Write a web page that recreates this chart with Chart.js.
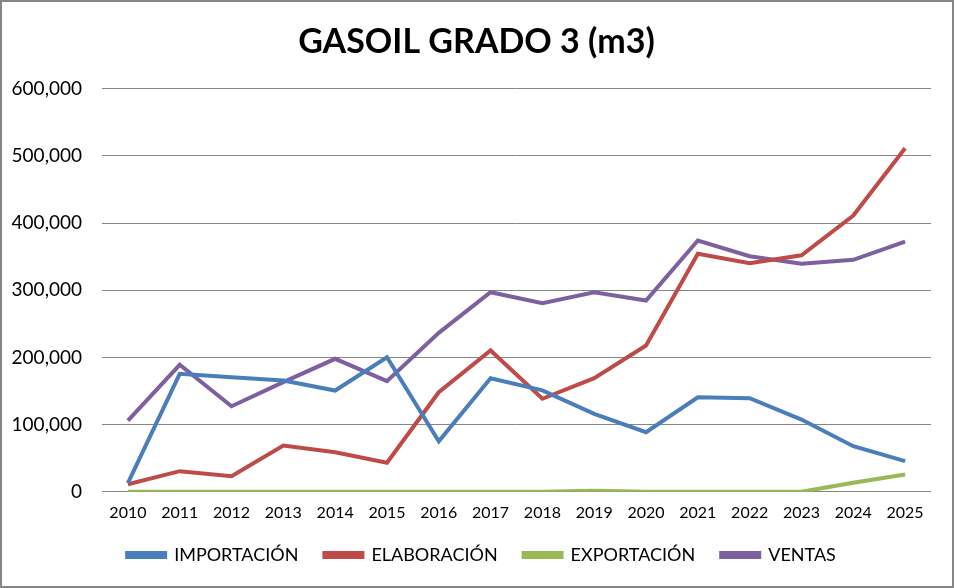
<!DOCTYPE html>
<html>
<head>
<meta charset="utf-8">
<script src="https://cdn.jsdelivr.net/npm/chart.js@4.4.1/dist/chart.umd.min.js"></script>
<style>
  html, body { margin: 0; padding: 0; background: #fff; }
  #wrap { width: 954px; height: 588px; box-sizing: border-box; border: 2px solid #868686; }
</style>
</head>
<body>
<div id="wrap"><canvas id="chart" width="950" height="584"></canvas></div>
<script>
// data (m3)
var years = ['2010','2011','2012','2013','2014','2015','2016','2017','2018','2019','2020','2021','2022','2023','2024','2025'];
var importacion = [13000, 175700, 170600, 165700, 150800, 200400, 75300, 169100, 151000, 116100, 88700, 140800, 139300, 107600, 67900, 45600];
var elaboracion = [11300, 30700, 23200, 68900, 59000, 43200, 148300, 210400, 138500, 169100, 217800, 354300, 340300, 352200, 411300, 511500];
var exportacion = [0, 0, 0, 0, 0, 0, 0, 0, 0, 1500, 0, 0, 0, 0, 13500, 25800];
var ventas = [106100, 189100, 127400, 163200, 198000, 164700, 236700, 297200, 280800, 297200, 284800, 374100, 350800, 339400, 345400, 372600];
var yTicks = [0, 100000, 200000, 300000, 400000, 500000, 600000];

function serie(label, data, color) {
  return {
    label: label,
    data: data,
    borderColor: color,
    backgroundColor: color,
    borderWidth: 4,
    pointRadius: 0,
    tension: 0
  };
}

// title and legend in the original are centred on the whole frame, not on the plot
var centrar = {
  id: 'centrar',
  afterUpdate: function (chart) {
    if (chart.titleBlock) { chart.titleBlock.left += 10; chart.titleBlock.right += 10; }
    if (chart.legend) { chart.legend.left += 15; chart.legend.right += 15; }
  }
};

new Chart(document.getElementById('chart'), {
  type: 'line',
  data: {
    labels: years,
    datasets: [
      serie('IMPORTACIÓN', importacion, '#4A7EBB'),
      serie('ELABORACIÓN', elaboracion, '#BE4B48'),
      serie('EXPORTACIÓN', exportacion, '#98B954'),
      serie('VENTAS', ventas, '#7D60A0')
    ]
  },
  plugins: [centrar],
  options: {
    responsive: false,
    animation: false,
    layout: { padding: { left: 0, right: 21, top: 0, bottom: 12 } },
    plugins: {
      title: {
        display: true,
        text: 'GASOIL GRADO 3 (m3)',
        color: '#000',
        font: { family: 'Lato', size: 34, weight: 'bold' },
        padding: { top: 20, bottom: 26 }
      },
      legend: {
        position: 'bottom',
        labels: {
          color: '#000',
          font: { family: 'Lato', size: 18 },
          boxWidth: 38,
          boxHeight: 4,
          padding: 26
        }
      },
      tooltip: { enabled: false }
    },
    scales: {
      x: {
        offset: true,
        grid: { display: false },
        border: { display: false },
        ticks: { color: '#000', font: { family: 'Lato', size: 16 }, maxRotation: 0, padding: 3 },
        afterFit: function (axis) { axis.height -= 5; }
      },
      y: {
        min: 0,
        max: 600000,
        afterBuildTicks: function (axis) {
          axis.ticks = yTicks.map(function (v) { return { value: v }; });
        },
        afterFit: function (axis) { axis.width = 100; },
        grid: { color: '#868686', lineWidth: 1, drawTicks: false },
        border: { display: false },
        ticks: {
          color: '#000',
          font: { family: 'Lato', size: 19 },
          padding: 20,
          callback: function (v) { return v.toLocaleString('en-US'); }
        }
      }
    }
  }
});
</script>
</body>
</html>
